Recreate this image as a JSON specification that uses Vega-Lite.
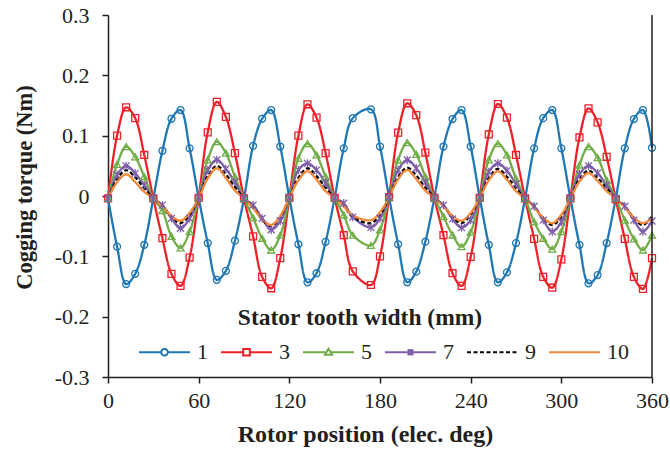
{
"$schema": "https://vega.github.io/schema/vega-lite/v6.json",
"width": 544,
"height": 362,
"autosize": {"type": "none"},
"padding": {"left": 108, "top": 15, "right": 18, "bottom": 78},
"background": "white",
"config": {"view": {"stroke": null}, "font": "Times New Roman"},
"data": {"values": [
{"pos":0,"width":"1","torque":-0.004},{"pos":6,"width":"1","torque":-0.084},{"pos":12,"width":"1","torque":-0.146},{"pos":18,"width":"1","torque":-0.129},{"pos":24,"width":"1","torque":-0.081},{"pos":30,"width":"1","torque":-0.004},{"pos":36,"width":"1","torque":0.075},{"pos":42,"width":"1","torque":0.128},{"pos":48,"width":"1","torque":0.1425},{"pos":54,"width":"1","torque":0.079},
{"pos":60,"width":"1","torque":-0.003},{"pos":66,"width":"1","torque":-0.078},{"pos":72,"width":"1","torque":-0.139},{"pos":78,"width":"1","torque":-0.124},{"pos":84,"width":"1","torque":-0.074},{"pos":90,"width":"1","torque":-0.004},{"pos":96,"width":"1","torque":0.083},{"pos":102,"width":"1","torque":0.128},{"pos":108,"width":"1","torque":0.1425},{"pos":114,"width":"1","torque":0.082},
{"pos":120,"width":"1","torque":-0.003},{"pos":126,"width":"1","torque":-0.080},{"pos":132,"width":"1","torque":-0.143},{"pos":138,"width":"1","torque":-0.128},{"pos":144,"width":"1","torque":-0.076},{"pos":150,"width":"1","torque":-0.003},{"pos":156,"width":"1","torque":0.079},{"pos":162,"width":"1","torque":0.129},{"pos":174,"width":"1","torque":0.1437},{"pos":180,"width":"1","torque":0.082},
{"pos":186,"width":"1","torque":-0.002},{"pos":192,"width":"1","torque":-0.080},{"pos":198,"width":"1","torque":-0.143},{"pos":204,"width":"1","torque":-0.1254},{"pos":210,"width":"1","torque":-0.0757},{"pos":216,"width":"1","torque":-0.003},{"pos":222,"width":"1","torque":0.082},{"pos":228,"width":"1","torque":0.1276},{"pos":234,"width":"1","torque":0.1425},{"pos":240,"width":"1","torque":0.082},
{"pos":246,"width":"1","torque":-0.003},{"pos":252,"width":"1","torque":-0.081},{"pos":258,"width":"1","torque":-0.143},{"pos":264,"width":"1","torque":-0.1265},{"pos":270,"width":"1","torque":-0.078},{"pos":276,"width":"1","torque":-0.004},{"pos":282,"width":"1","torque":0.079},{"pos":288,"width":"1","torque":0.129},{"pos":294,"width":"1","torque":0.1425},{"pos":300,"width":"1","torque":0.079},
{"pos":306,"width":"1","torque":-0.004},{"pos":312,"width":"1","torque":-0.081},{"pos":318,"width":"1","torque":-0.1447},{"pos":324,"width":"1","torque":-0.131},{"pos":330,"width":"1","torque":-0.078},{"pos":336,"width":"1","torque":-0.004},{"pos":342,"width":"1","torque":0.079},{"pos":348,"width":"1","torque":0.1276},{"pos":354,"width":"1","torque":0.1425},{"pos":360,"width":"1","torque":0.080},

{"pos":0,"width":"3","torque":-0.004},{"pos":6,"width":"3","torque":0.100},{"pos":12,"width":"3","torque":0.147},{"pos":18,"width":"3","torque":0.129},{"pos":24,"width":"3","torque":0.068},{"pos":30,"width":"3","torque":-0.004},{"pos":36,"width":"3","torque":-0.070},{"pos":42,"width":"3","torque":-0.129},{"pos":48,"width":"3","torque":-0.149},{"pos":54,"width":"3","torque":-0.102},
{"pos":60,"width":"3","torque":-0.003},{"pos":66,"width":"3","torque":0.1055},{"pos":72,"width":"3","torque":0.156},{"pos":78,"width":"3","torque":0.131},{"pos":84,"width":"3","torque":0.071},{"pos":90,"width":"3","torque":-0.004},{"pos":96,"width":"3","torque":-0.067},{"pos":102,"width":"3","torque":-0.134},{"pos":108,"width":"3","torque":-0.153},{"pos":114,"width":"3","torque":-0.103},
{"pos":120,"width":"3","torque":-0.003},{"pos":126,"width":"3","torque":0.100},{"pos":132,"width":"3","torque":0.152},{"pos":138,"width":"3","torque":0.130},{"pos":144,"width":"3","torque":0.071},{"pos":150,"width":"3","torque":-0.003},{"pos":156,"width":"3","torque":-0.065},{"pos":162,"width":"3","torque":-0.125},{"pos":174,"width":"3","torque":-0.1475},{"pos":180,"width":"3","torque":-0.100},
{"pos":186,"width":"3","torque":-0.002},{"pos":192,"width":"3","torque":0.105},{"pos":198,"width":"3","torque":0.1537},{"pos":204,"width":"3","torque":0.134},{"pos":210,"width":"3","torque":0.072},{"pos":216,"width":"3","torque":-0.003},{"pos":222,"width":"3","torque":-0.065},{"pos":228,"width":"3","torque":-0.128},{"pos":234,"width":"3","torque":-0.149},{"pos":240,"width":"3","torque":-0.101},
{"pos":246,"width":"3","torque":-0.003},{"pos":252,"width":"3","torque":0.102},{"pos":258,"width":"3","torque":0.1525},{"pos":264,"width":"3","torque":0.130},{"pos":270,"width":"3","torque":0.068},{"pos":276,"width":"3","torque":-0.004},{"pos":282,"width":"3","torque":-0.071},{"pos":288,"width":"3","torque":-0.134},{"pos":294,"width":"3","torque":-0.152},{"pos":300,"width":"3","torque":-0.105},
{"pos":306,"width":"3","torque":-0.004},{"pos":312,"width":"3","torque":0.097},{"pos":318,"width":"3","torque":0.1453},{"pos":324,"width":"3","torque":0.122},{"pos":330,"width":"3","torque":0.065},{"pos":336,"width":"3","torque":-0.005},{"pos":342,"width":"3","torque":-0.071},{"pos":348,"width":"3","torque":-0.134},{"pos":354,"width":"3","torque":-0.154},{"pos":360,"width":"3","torque":-0.103},

{"pos":0,"width":"5","torque":-0.004},{"pos":6,"width":"5","torque":0.0525},{"pos":12,"width":"5","torque":0.082},{"pos":18,"width":"5","torque":0.065},{"pos":24,"width":"5","torque":0.032},{"pos":30,"width":"5","torque":-0.004},{"pos":36,"width":"5","torque":-0.024},{"pos":42,"width":"5","torque":-0.067},{"pos":48,"width":"5","torque":-0.086},{"pos":54,"width":"5","torque":-0.059},
{"pos":60,"width":"5","torque":-0.003},{"pos":66,"width":"5","torque":0.060},{"pos":72,"width":"5","torque":0.090},{"pos":78,"width":"5","torque":0.071},{"pos":84,"width":"5","torque":0.032},{"pos":90,"width":"5","torque":-0.004},{"pos":96,"width":"5","torque":-0.036},{"pos":102,"width":"5","torque":-0.070},{"pos":108,"width":"5","torque":-0.0895},{"pos":114,"width":"5","torque":-0.065},
{"pos":120,"width":"5","torque":-0.003},{"pos":126,"width":"5","torque":0.0625},{"pos":132,"width":"5","torque":0.087},{"pos":138,"width":"5","torque":0.068},{"pos":144,"width":"5","torque":0.032},{"pos":150,"width":"5","torque":-0.003},{"pos":156,"width":"5","torque":-0.0315},{"pos":162,"width":"5","torque":-0.065},{"pos":174,"width":"5","torque":-0.082},{"pos":180,"width":"5","torque":-0.056},
{"pos":186,"width":"5","torque":-0.002},{"pos":192,"width":"5","torque":0.0597},{"pos":198,"width":"5","torque":0.0884},{"pos":204,"width":"5","torque":0.069},{"pos":210,"width":"5","torque":0.032},{"pos":216,"width":"5","torque":-0.003},{"pos":222,"width":"5","torque":-0.034},{"pos":228,"width":"5","torque":-0.0646},{"pos":234,"width":"5","torque":-0.084},{"pos":240,"width":"5","torque":-0.060},
{"pos":246,"width":"5","torque":-0.003},{"pos":252,"width":"5","torque":0.060},{"pos":258,"width":"5","torque":0.087},{"pos":264,"width":"5","torque":0.068},{"pos":270,"width":"5","torque":0.029},{"pos":276,"width":"5","torque":-0.004},{"pos":282,"width":"5","torque":-0.0426},{"pos":288,"width":"5","torque":-0.070},{"pos":294,"width":"5","torque":-0.088},{"pos":300,"width":"5","torque":-0.059},
{"pos":306,"width":"5","torque":-0.004},{"pos":312,"width":"5","torque":0.0514},{"pos":318,"width":"5","torque":0.082},{"pos":324,"width":"5","torque":0.0635},{"pos":330,"width":"5","torque":0.0265},{"pos":336,"width":"5","torque":-0.004},{"pos":342,"width":"5","torque":-0.040},{"pos":348,"width":"5","torque":-0.071},{"pos":354,"width":"5","torque":-0.0895},{"pos":360,"width":"5","torque":-0.065},

{"pos":0,"width":"7","torque":-0.004},{"pos":6,"width":"7","torque":0.035},{"pos":12,"width":"7","torque":0.050},{"pos":18,"width":"7","torque":0.0375},{"pos":24,"width":"7","torque":0.018},{"pos":30,"width":"7","torque":-0.004},{"pos":36,"width":"7","torque":-0.015},{"pos":42,"width":"7","torque":-0.037},{"pos":48,"width":"7","torque":-0.0535},{"pos":54,"width":"7","torque":-0.037},
{"pos":60,"width":"7","torque":-0.003},{"pos":66,"width":"7","torque":0.043},{"pos":72,"width":"7","torque":0.060},{"pos":78,"width":"7","torque":0.045},{"pos":84,"width":"7","torque":0.023},{"pos":90,"width":"7","torque":-0.004},{"pos":96,"width":"7","torque":-0.015},{"pos":102,"width":"7","torque":-0.037},{"pos":108,"width":"7","torque":-0.056},{"pos":114,"width":"7","torque":-0.041},
{"pos":120,"width":"7","torque":-0.003},{"pos":126,"width":"7","torque":0.043},{"pos":132,"width":"7","torque":0.054},{"pos":138,"width":"7","torque":0.043},{"pos":144,"width":"7","torque":0.022},{"pos":150,"width":"7","torque":-0.003},{"pos":156,"width":"7","torque":-0.012},{"pos":162,"width":"7","torque":-0.035},{"pos":174,"width":"7","torque":-0.052},{"pos":180,"width":"7","torque":-0.037},
{"pos":186,"width":"7","torque":-0.002},{"pos":192,"width":"7","torque":0.043},{"pos":198,"width":"7","torque":0.0597},{"pos":204,"width":"7","torque":0.046},{"pos":210,"width":"7","torque":0.0227},{"pos":216,"width":"7","torque":-0.003},{"pos":222,"width":"7","torque":-0.015},{"pos":228,"width":"7","torque":-0.038},{"pos":234,"width":"7","torque":-0.0525},{"pos":240,"width":"7","torque":-0.040},
{"pos":246,"width":"7","torque":-0.003},{"pos":252,"width":"7","torque":0.040},{"pos":258,"width":"7","torque":0.054},{"pos":264,"width":"7","torque":0.042},{"pos":270,"width":"7","torque":0.020},{"pos":276,"width":"7","torque":-0.004},{"pos":282,"width":"7","torque":-0.017},{"pos":288,"width":"7","torque":-0.040},{"pos":294,"width":"7","torque":-0.059},{"pos":300,"width":"7","torque":-0.043},
{"pos":306,"width":"7","torque":-0.004},{"pos":312,"width":"7","torque":0.036},{"pos":318,"width":"7","torque":0.050},{"pos":324,"width":"7","torque":0.038},{"pos":330,"width":"7","torque":0.018},{"pos":336,"width":"7","torque":-0.004},{"pos":342,"width":"7","torque":-0.017},{"pos":348,"width":"7","torque":-0.040},{"pos":354,"width":"7","torque":-0.059},{"pos":360,"width":"7","torque":-0.0415},

{"pos":0,"width":"9","torque":-0.004},{"pos":6,"width":"9","torque":0.028},{"pos":12,"width":"9","torque":0.043},{"pos":18,"width":"9","torque":0.031},{"pos":24,"width":"9","torque":0.013},{"pos":30,"width":"9","torque":-0.004},{"pos":36,"width":"9","torque":-0.016},{"pos":42,"width":"9","torque":-0.035},{"pos":48,"width":"9","torque":-0.045},{"pos":54,"width":"9","torque":-0.031},
{"pos":60,"width":"9","torque":-0.003},{"pos":66,"width":"9","torque":0.033},{"pos":72,"width":"9","torque":0.050},{"pos":78,"width":"9","torque":0.036},{"pos":84,"width":"9","torque":0.015},{"pos":90,"width":"9","torque":-0.004},{"pos":96,"width":"9","torque":-0.018},{"pos":102,"width":"9","torque":-0.039},{"pos":108,"width":"9","torque":-0.050},{"pos":114,"width":"9","torque":-0.035},
{"pos":120,"width":"9","torque":-0.003},{"pos":126,"width":"9","torque":0.030},{"pos":132,"width":"9","torque":0.046},{"pos":138,"width":"9","torque":0.033},{"pos":144,"width":"9","torque":0.014},{"pos":150,"width":"9","torque":-0.003},{"pos":156,"width":"9","torque":-0.016},{"pos":162,"width":"9","torque":-0.035},{"pos":174,"width":"9","torque":-0.045},{"pos":180,"width":"9","torque":-0.031},
{"pos":186,"width":"9","torque":-0.002},{"pos":192,"width":"9","torque":0.031},{"pos":198,"width":"9","torque":0.047},{"pos":204,"width":"9","torque":0.034},{"pos":210,"width":"9","torque":0.014},{"pos":216,"width":"9","torque":-0.003},{"pos":222,"width":"9","torque":-0.016},{"pos":228,"width":"9","torque":-0.035},{"pos":234,"width":"9","torque":-0.045},{"pos":240,"width":"9","torque":-0.031},
{"pos":246,"width":"9","torque":-0.003},{"pos":252,"width":"9","torque":0.030},{"pos":258,"width":"9","torque":0.045},{"pos":264,"width":"9","torque":0.032},{"pos":270,"width":"9","torque":0.013},{"pos":276,"width":"9","torque":-0.004},{"pos":282,"width":"9","torque":-0.017},{"pos":288,"width":"9","torque":-0.037},{"pos":294,"width":"9","torque":-0.048},{"pos":300,"width":"9","torque":-0.034},
{"pos":306,"width":"9","torque":-0.004},{"pos":312,"width":"9","torque":0.028},{"pos":318,"width":"9","torque":0.042},{"pos":324,"width":"9","torque":0.030},{"pos":330,"width":"9","torque":0.013},{"pos":336,"width":"9","torque":-0.004},{"pos":342,"width":"9","torque":-0.017},{"pos":348,"width":"9","torque":-0.037},{"pos":354,"width":"9","torque":-0.048},{"pos":360,"width":"9","torque":-0.034},

{"pos":0,"width":"10","torque":-0.004},{"pos":6,"width":"10","torque":0.023},{"pos":12,"width":"10","torque":0.036},{"pos":18,"width":"10","torque":0.023},{"pos":24,"width":"10","torque":0.007},{"pos":30,"width":"10","torque":-0.004},{"pos":36,"width":"10","torque":-0.017},{"pos":42,"width":"10","torque":-0.033},{"pos":48,"width":"10","torque":-0.041},{"pos":54,"width":"10","torque":-0.028},
{"pos":60,"width":"10","torque":-0.003},{"pos":66,"width":"10","torque":0.029},{"pos":72,"width":"10","torque":0.046},{"pos":78,"width":"10","torque":0.030},{"pos":84,"width":"10","torque":0.009},{"pos":90,"width":"10","torque":-0.004},{"pos":96,"width":"10","torque":-0.020},{"pos":102,"width":"10","torque":-0.038},{"pos":108,"width":"10","torque":-0.048},{"pos":114,"width":"10","torque":-0.033},
{"pos":120,"width":"10","torque":-0.003},{"pos":126,"width":"10","torque":0.026},{"pos":132,"width":"10","torque":0.041},{"pos":138,"width":"10","torque":0.027},{"pos":144,"width":"10","torque":0.008},{"pos":150,"width":"10","torque":-0.003},{"pos":156,"width":"10","torque":-0.017},{"pos":162,"width":"10","torque":-0.032},{"pos":174,"width":"10","torque":-0.040},{"pos":180,"width":"10","torque":-0.027},
{"pos":186,"width":"10","torque":-0.002},{"pos":192,"width":"10","torque":0.028},{"pos":198,"width":"10","torque":0.043},{"pos":204,"width":"10","torque":0.028},{"pos":210,"width":"10","torque":0.009},{"pos":216,"width":"10","torque":-0.003},{"pos":222,"width":"10","torque":-0.017},{"pos":228,"width":"10","torque":-0.033},{"pos":234,"width":"10","torque":-0.041},{"pos":240,"width":"10","torque":-0.028},
{"pos":246,"width":"10","torque":-0.003},{"pos":252,"width":"10","torque":0.026},{"pos":258,"width":"10","torque":0.041},{"pos":264,"width":"10","torque":0.027},{"pos":270,"width":"10","torque":0.008},{"pos":276,"width":"10","torque":-0.004},{"pos":282,"width":"10","torque":-0.019},{"pos":288,"width":"10","torque":-0.036},{"pos":294,"width":"10","torque":-0.045},{"pos":300,"width":"10","torque":-0.031},
{"pos":306,"width":"10","torque":-0.004},{"pos":312,"width":"10","torque":0.024},{"pos":318,"width":"10","torque":0.038},{"pos":324,"width":"10","torque":0.025},{"pos":330,"width":"10","torque":0.008},{"pos":336,"width":"10","torque":-0.004},{"pos":342,"width":"10","torque":-0.019},{"pos":348,"width":"10","torque":-0.036},{"pos":354,"width":"10","torque":-0.045},{"pos":360,"width":"10","torque":-0.037}
]},
"layer": [
{
"mark": {"type": "line", "interpolate": "catmull-rom", "strokeWidth": 2.3},
"encoding": {
"x": {"field": "pos", "type": "quantitative", "scale": {"domain": [0, 360], "nice": false},
"axis": {"values": [0, 60, 120, 180, 240, 300, 360], "title": "Rotor position (elec. deg)", "grid": false,
"labelFont": "Times New Roman", "labelFontSize": 22, "labelColor": "#231f20", "labelPadding": 7, "labelFlush": false,
"titleFont": "Times New Roman", "titleFontSize": 24, "titleFontWeight": "bold", "titleColor": "#231f20",
"titleX": 257, "titleY": 57, "titleBaseline": "middle",
"domainColor": "#231f20", "domainWidth": 1.5, "tickColor": "#231f20", "tickWidth": 1.5, "tickSize": 6}},
"y": {"field": "torque", "type": "quantitative", "scale": {"domain": [-0.3, 0.3], "nice": false, "zero": false},
"axis": {"values": [-0.3, -0.2, -0.1, 0, 0.1, 0.2, 0.3], "title": "Cogging torque (Nm)", "grid": false,
"labelExpr": "abs(datum.value) < 1e-9 ? '0' : (datum.value < 0 ? '-' + format(-datum.value, '.1f') : format(datum.value, '.1f'))",
"labelFont": "Times New Roman", "labelFontSize": 22, "labelColor": "#231f20", "labelPadding": 13,
"titleFont": "Times New Roman", "titleFontSize": 22.5, "titleFontWeight": "bold", "titleColor": "#231f20",
"titleX": -84, "titleY": 172, "titleBaseline": "middle",
"domainColor": "#231f20", "domainWidth": 1.5, "tickColor": "#231f20", "tickWidth": 1.5, "tickSize": 6}},
"color": {"field": "width", "type": "nominal", "sort": null,
"scale": {"domain": ["1", "3", "5", "7", "9", "10"], "range": ["#1f77b4", "#ee2028", "#70ad47", "#7e5ea8", "#000000", "#f28a3a"]},
"legend": {"orient": "none", "legendX": 30, "legendY": 291, "direction": "horizontal", "columns": 6,
"title": "Stator tooth width (mm)", "titleFont": "Times New Roman", "titleFontSize": 23.5, "titleFontWeight": "bold", "titleColor": "#231f20",
"titleAnchor": "middle", "titlePadding": -4, "titleLimit": 500,
"labelFont": "Times New Roman", "labelFontSize": 22, "labelColor": "#231f20", "labelOffset": 6,
"columnPadding": 9, "symbolSize": 2601, "symbolStrokeWidth": 2, "padding": 0,
"encode": {
"symbols": {"update": {"shape": {"signal": "datum.value === '1' ? 'M-1,0H-0.13M0.13,0H1M0.13,0A0.13,0.13 0 1,1 -0.13,0A0.13,0.13 0 1,1 0.13,0' : datum.value === '3' ? 'M-1,0H-0.13M0.13,0H1M-0.13,-0.13H0.13V0.13H-0.13Z' : datum.value === '5' ? 'M-1,0H-0.08M0.08,0H1M0,-0.14L0.14,0.1H-0.14Z' : datum.value === '7' ? 'M-1,0H1M-0.11,-0.11L0.11,0.11M-0.11,0.11L0.11,-0.11M0,-0.13V0.13' : 'M-1,0H1'"}, "fill": {"value": "transparent"}}},
"title": {"update": {"dx": {"value": -24}}}
}}},
"strokeDash": {"field": "width", "type": "nominal", "sort": null,
"scale": {"domain": ["1", "3", "5", "7", "9", "10"], "range": [[1, 0], [1, 0], [1, 0], [1, 0], [4, 2.5], [1, 0]]}}
}
},
{
"transform": [{"filter": {"field": "width", "oneOf": ["1", "3", "5", "7"]}}],
"mark": {"type": "point", "filled": false, "size": 48, "strokeWidth": 1.3, "opacity": 1},
"encoding": {
"x": {"field": "pos", "type": "quantitative"},
"y": {"field": "torque", "type": "quantitative"},
"color": {"field": "width", "type": "nominal", "sort": null},
"shape": {"field": "width", "type": "nominal", "sort": null,
"scale": {"domain": ["1", "3", "5", "7"], "range": ["circle", "square", "triangle-up", "M-1,-1L1,1M-1,1L1,-1M0,-1.2V1.2"]},
"legend": null}
}
},
{
"data": {"values": [{}]},
"mark": {"type": "rule", "color": "#231f20", "strokeWidth": 1.5},
"encoding": {"x": {"datum": 360}}
}
]
}
